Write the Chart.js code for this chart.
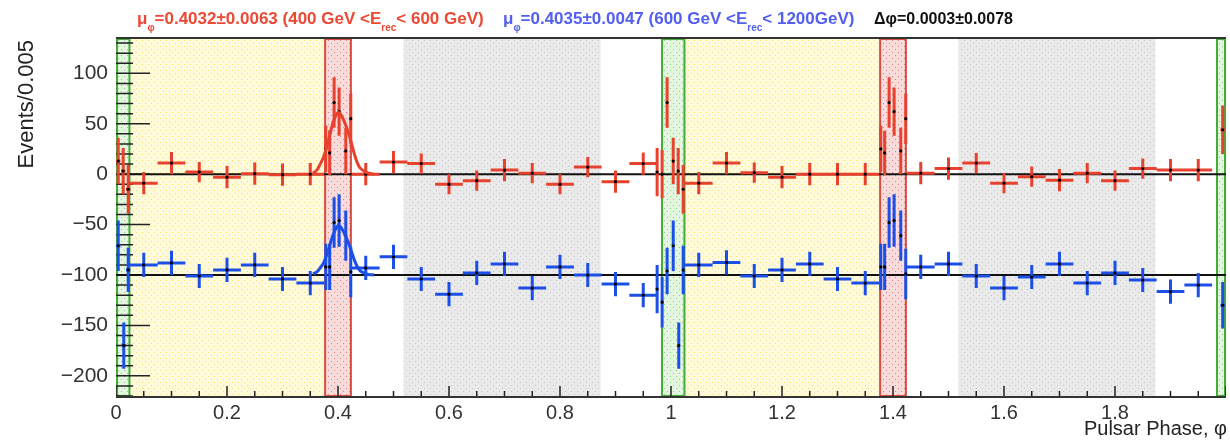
<!DOCTYPE html>
<html>
<head>
<meta charset="utf-8">
<script src="https://cdn.jsdelivr.net/npm/chart.js@4.4.1/dist/chart.umd.min.js"></script>
<style>
  html, body { margin: 0; padding: 0; background: #fff; }
  #wrap { width: 1230px; height: 441px; }
</style>
</head>
<body>
<div id="wrap"><canvas id="myChart" width="1230" height="441"></canvas></div>
<script>
// 400 - 600 GeV, events per bin (plotted around 0)
const redPhase = [0.004, 0.013, 0.022, 0.05, 0.10, 0.15, 0.20, 0.25, 0.30, 0.35,
  0.378, 0.385, 0.393, 0.402, 0.414, 0.423,
  0.45, 0.50, 0.55, 0.60, 0.65, 0.70, 0.75, 0.80, 0.85, 0.90, 0.95,
  0.975, 0.984, 0.993, 1.004, 1.013, 1.022,
  1.05, 1.10, 1.15, 1.20, 1.25, 1.30, 1.35,
  1.378, 1.385, 1.393, 1.402, 1.414, 1.423,
  1.45, 1.50, 1.55, 1.60, 1.65, 1.70, 1.75, 1.80, 1.85, 1.90, 1.95, 1.994];
const redEvents = [13, 3, -15, -9, 11, 2, -3, 0.5, -0.5, 0,
  25, 21, 71, 62, 23, 55,
  0, 12, 10.5, -10, -6.5, 4, 1, -10, 7, -7.5, 10.5,
  2, 0, 71, 13, 3, -15,
  -9, 11, 1.5, -3, 0, 0, 0,
  25, 21, 71, 62, 23, 55,
  1, 5.5, 11, -9, -2.5, -6, 1, -6.5, 5.5, 4, 4, 44];
const redEventsErr = [23, 23, 24, 11, 11, 10, 11, 11, 11, 11,
  23, 22, 25, 24, 23, 25,
  11, 11, 10, 10, 10, 11, 10, 10, 10, 11, 11,
  24, 24, 25, 23, 23, 24,
  11, 11, 10, 11, 11, 11, 11,
  23, 22, 25, 24, 23, 25,
  11, 11, 10, 10, 10, 11, 10, 10, 10, 11, 11, 24];

// 600 - 1200 GeV, shifted down by 100
const bluePhase = [0.004, 0.014, 0.022, 0.05, 0.10, 0.15, 0.20, 0.25, 0.30, 0.35,
  0.378, 0.385, 0.393, 0.402, 0.414, 0.423,
  0.45, 0.50, 0.55, 0.60, 0.65, 0.70, 0.75, 0.80, 0.85, 0.90, 0.95,
  0.975, 0.984, 0.993, 1.004, 1.014, 1.022,
  1.05, 1.10, 1.15, 1.20, 1.25, 1.30, 1.35,
  1.378, 1.385, 1.393, 1.402, 1.414, 1.423,
  1.45, 1.50, 1.55, 1.60, 1.65, 1.70, 1.75, 1.80, 1.85, 1.90, 1.95, 1.994];
const blueEvents = [-71, -170, -95, -90, -88, -101, -95, -90, -104, -108,
  -92, -92, -48, -46, -61, -97,
  -93, -82, -104, -119, -98, -89, -113, -92, -100, -109, -120,
  -114, -127, -96, -71, -170, -95,
  -90, -87.5, -101, -95, -89, -104, -108,
  -92, -92, -48, -46, -61, -99,
  -92, -89, -101, -113, -102, -89, -108, -98, -105, -116.5, -110, -130];
const blueEventsErr = [25, 23, 22, 12, 12, 12, 12, 12, 12, 12,
  23, 23, 25, 26, 25, 25,
  12, 12, 12, 12, 12, 12, 12, 12, 12, 12, 12,
  24, 25, 23, 25, 23, 24,
  12, 12, 12, 12, 12, 12, 12,
  23, 23, 25, 26, 25, 25,
  12, 12, 12, 12, 12, 12, 12, 12, 12, 12, 12, 23];

// half bin widths: fine bins near the peaks, 0.05 wide bins elsewhere
const binHalfWidth = [0.004, 0.004, 0.004, 0.025, 0.025, 0.025, 0.025, 0.025, 0.025, 0.025,
  0.0025, 0.0025, 0.0025, 0.0025, 0.0025, 0.0025,
  0.025, 0.025, 0.025, 0.025, 0.025, 0.025, 0.025, 0.025, 0.025, 0.025, 0.025,
  0.0025, 0.0025, 0.0025, 0.0025, 0.0025, 0.0025,
  0.025, 0.025, 0.025, 0.025, 0.025, 0.025, 0.025,
  0.0025, 0.0025, 0.0025, 0.0025, 0.0025, 0.0025,
  0.025, 0.025, 0.025, 0.025, 0.025, 0.025, 0.025, 0.025, 0.025, 0.025, 0.025, 0.004];

// fitted peak shape
const fitPhase = [0.355, 0.362, 0.368, 0.374, 0.381, 0.390, 0.396, 0.400, 0.404, 0.409,
  0.415, 0.420, 0.425, 0.430, 0.435, 0.440, 0.447, 0.455, 0.465];
const fitRed = [1, 4, 10, 17, 30, 49, 58, 61, 60, 55, 47, 39, 29, 19, 11, 6, 3, 1, 0];
const fitBlue = [-99, -97, -93, -88, -78, -62, -54, -51, -52, -56, -63, -70, -78, -86, -92, -96, -98, -99.5, -100];

// phase intervals
const offPulseBands = [[0, 0.026], [0.982, 1.026], [1.982, 2]];
const bridgeBands = [[0.026, 0.375], [1.026, 1.375]];
const peakBands = [[0.375, 0.425], [1.375, 1.425]];
const bgBands = [[0.518, 0.873], [1.518, 1.873]];

const xTickValues = [0, 0.2, 0.4, 0.6, 0.8, 1, 1.2, 1.4, 1.6, 1.8];
const yTickValues = [-200, -150, -100, -50, 0, 50, 100];

const RED = 'rgb(232,66,46)';
const BLUE = 'rgb(28,78,232)';
const FONT = '"Liberation Sans", Arial, Helvetica, sans-serif';

function makePattern(base, dot) {
  const c = document.createElement('canvas');
  c.width = 6; c.height = 6;
  const g = c.getContext('2d');
  g.fillStyle = base; g.fillRect(0, 0, 6, 6);
  g.fillStyle = dot;
  g.fillRect(1, 1, 1, 1);
  g.fillRect(4, 4, 1, 1);
  return g.createPattern(c, 'repeat');
}

const bandsPlugin = {
  id: 'bands',
  beforeDatasetsDraw(chart) {
    const { ctx, chartArea: a, scales: { x, y } } = chart;
    const h = a.bottom - a.top;
    ctx.save();
    ctx.beginPath();
    ctx.rect(a.left, a.top, a.right - a.left, h);
    ctx.clip();

    const band = (list, fill, stroke) => {
      list.forEach(([p0, p1]) => {
        const x0 = x.getPixelForValue(p0), x1 = x.getPixelForValue(p1);
        ctx.fillStyle = fill;
        ctx.fillRect(x0, a.top, x1 - x0, h);
        if (stroke) {
          ctx.strokeStyle = stroke;
          ctx.lineWidth = 2;
          ctx.strokeRect(x0 + 1, a.top + 1, x1 - x0 - 2, h - 2);
        }
      });
    };
    band(bridgeBands, makePattern('rgb(255,251,218)', 'rgb(246,224,110)'));
    band(bgBands, makePattern('rgb(234,234,234)', 'rgb(196,196,196)'));
    band(peakBands, makePattern('rgb(248,220,220)', 'rgb(226,128,128)'), 'rgb(214,78,66)');
    band(offPulseBands, makePattern('rgb(228,246,224)', 'rgb(140,205,135)'), 'rgb(70,172,55)');

    // inner ticks
    ctx.strokeStyle = '#222';
    ctx.lineWidth = 1.5;
    ctx.beginPath();
    for (let v = -220; v <= 130; v += 10) {
      const py = y.getPixelForValue(v);
      const len = v % 50 === 0 ? 34 : 17;
      ctx.moveTo(a.left, py); ctx.lineTo(a.left + len, py);
    }
    for (let i = 0; i <= 40; i++) {
      const px = x.getPixelForValue(i * 0.05);
      const len = i % 4 === 0 ? 11 : 6;
      ctx.moveTo(px, a.bottom); ctx.lineTo(px, a.bottom - len);
    }
    ctx.stroke();

    // reference levels of the two series
    ctx.strokeStyle = '#111';
    ctx.lineWidth = 2;
    [0, -100].forEach(v => {
      const py = y.getPixelForValue(v);
      ctx.beginPath(); ctx.moveTo(a.left, py); ctx.lineTo(a.right, py); ctx.stroke();
    });

    // error bars
    const bars = (phase, ev, err, color) => {
      ctx.strokeStyle = color;
      ctx.lineWidth = 3;
      ctx.beginPath();
      phase.forEach((p, i) => {
        const px = x.getPixelForValue(p), py = y.getPixelForValue(ev[i]);
        ctx.moveTo(x.getPixelForValue(p - binHalfWidth[i]), py);
        ctx.lineTo(x.getPixelForValue(p + binHalfWidth[i]), py);
        ctx.moveTo(px, y.getPixelForValue(ev[i] + err[i]));
        ctx.lineTo(px, y.getPixelForValue(ev[i] - err[i]));
      });
      ctx.stroke();
    };
    bars(redPhase, redEvents, redEventsErr, RED);
    bars(bluePhase, blueEvents, blueEventsErr, BLUE);
    ctx.restore();
  },
  afterDraw(chart) {
    const { ctx, chartArea: a } = chart;
    ctx.save();
    ctx.strokeStyle = '#333';
    ctx.lineWidth = 2;
    ctx.beginPath();
    ctx.moveTo(a.left, a.top); ctx.lineTo(a.right, a.top);
    ctx.moveTo(a.left, a.bottom); ctx.lineTo(a.right, a.bottom);
    ctx.stroke();

    // header line with fit results
    const rich = (x0, size, parts, color) => {
      let cx = x0;
      ctx.fillStyle = color;
      ctx.textBaseline = 'alphabetic';
      ctx.textAlign = 'left';
      parts.forEach(([t, sub]) => {
        ctx.font = sub ? 'bold 10px ' + FONT : 'bold ' + size + 'px ' + FONT;
        ctx.fillText(t, cx, sub ? 31 : 24);
        cx += ctx.measureText(t).width;
      });
    };
    rich(137, 17, [['μ'], ['φ', 1], ['=0.4032±0.0063 (400 GeV <E'], ['rec', 1], ['< 600 GeV)']], 'rgb(236,72,52)');
    rich(503, 17, [['μ'], ['φ', 1], ['=0.4035±0.0047 (600 GeV <E'], ['rec', 1], ['< 1200GeV)']], 'rgb(82,94,242)');
    rich(874, 16, [['Δφ=0.0003±0.0078']], '#111');

    // axis titles
    ctx.fillStyle = '#222';
    ctx.font = '20px ' + FONT;
    ctx.textAlign = 'right';
    ctx.textBaseline = 'alphabetic';
    ctx.fillText('Pulsar Phase, φ', 1227, 435);
    ctx.font = '22px ' + FONT;
    ctx.translate(33, 40);
    ctx.rotate(-Math.PI / 2);
    ctx.fillText('Events/0.005', 0, 0);
    ctx.restore();
  }
};

const data = {
  datasets: [
    {
      type: 'line',
      data: fitPhase.map((p, i) => ({ x: p, y: fitRed[i] })),
      borderColor: RED, borderWidth: 3, pointRadius: 0, tension: 0.3, fill: false
    },
    {
      type: 'line',
      data: fitPhase.map((p, i) => ({ x: p, y: fitBlue[i] })),
      borderColor: BLUE, borderWidth: 3, pointRadius: 0, tension: 0.3, fill: false
    },
    {
      label: '400 GeV < Erec < 600 GeV',
      data: redPhase.map((p, i) => ({ x: p, y: redEvents[i] })),
      pointRadius: 1.6, pointBackgroundColor: '#000', pointBorderWidth: 0, showLine: false
    },
    {
      label: '600 GeV < Erec < 1200 GeV',
      data: bluePhase.map((p, i) => ({ x: p, y: blueEvents[i] })),
      pointRadius: 1.6, pointBackgroundColor: '#000', pointBorderWidth: 0, showLine: false
    }
  ]
};

const config = {
  type: 'scatter',
  data: data,
  options: {
    responsive: false,
    devicePixelRatio: 1,
    animation: false,
    layout: { padding: { top: 38, right: 2, left: 0, bottom: 0 } },
    plugins: { legend: { display: false }, tooltip: { enabled: false } },
    scales: {
      x: {
        type: 'linear', min: 0, max: 2,
        grid: { display: false, drawTicks: false },
        border: { display: false },
        afterBuildTicks: s => { s.ticks = xTickValues.map(v => ({ value: v })); },
        afterFit: s => { s.height = 44; },
        ticks: {
          padding: 4, color: '#333', maxRotation: 0, autoSkip: false,
          font: { family: FONT, size: 20 },
          callback: v => String(+v.toFixed(1))
        }
      },
      y: {
        type: 'linear', min: -221, max: 135,
        grid: { display: false, drawTicks: false },
        border: { display: false },
        afterBuildTicks: s => { s.ticks = yTickValues.map(v => ({ value: v })); },
        afterFit: s => { s.width = 116; },
        ticks: {
          padding: 8, color: '#333',
          font: { family: FONT, size: 21 },
          callback: v => (v < 0 ? '\u2212' + Math.abs(v) : String(v))
        }
      }
    }
  },
  plugins: [bandsPlugin]
};

var ctx = document.getElementById('myChart');
var myChart = new Chart(ctx, config);
</script>
</body>
</html>
